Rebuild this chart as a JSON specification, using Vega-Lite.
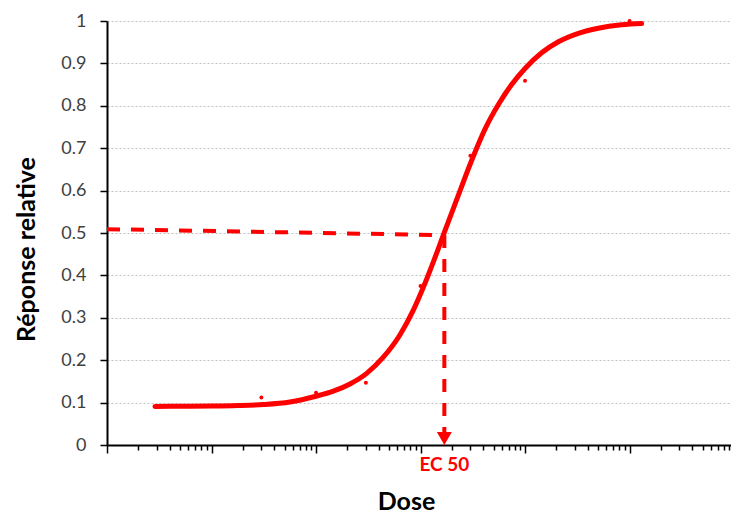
{
  "$schema": "https://vega.github.io/schema/vega-lite/v6.json",
  "width": 624,
  "height": 424,
  "autosize": {"type": "none"},
  "padding": {"left": 107, "top": 21, "right": 0, "bottom": 68},
  "background": "white",
  "config": {"view": {"stroke": null}, "font": "Lato"},
  "datasets": {
    "curve": [
      {"dose": 2.877, "y": 0.091},
      {"dose": 5.623, "y": 0.0913},
      {"dose": 10, "y": 0.0918},
      {"dose": 17.78, "y": 0.093},
      {"dose": 31.62, "y": 0.0955},
      {"dose": 56.23, "y": 0.1015},
      {"dose": 100, "y": 0.115},
      {"dose": 146.6, "y": 0.127},
      {"dose": 211.3, "y": 0.144},
      {"dose": 305.5, "y": 0.169},
      {"dose": 440.6, "y": 0.207},
      {"dose": 636.8, "y": 0.26},
      {"dose": 853.1, "y": 0.318},
      {"dose": 1064, "y": 0.372},
      {"dose": 1327, "y": 0.432},
      {"dose": 1652, "y": 0.495},
      {"dose": 2213, "y": 0.578},
      {"dose": 3083, "y": 0.671},
      {"dose": 4140, "y": 0.745},
      {"dose": 5559, "y": 0.803},
      {"dose": 7447, "y": 0.85},
      {"dose": 10000, "y": 0.888},
      {"dose": 14420, "y": 0.925},
      {"dose": 20840, "y": 0.951},
      {"dose": 32360, "y": 0.971},
      {"dose": 50230, "y": 0.983},
      {"dose": 84140, "y": 0.991},
      {"dose": 130600, "y": 0.994}
    ],
    "points": [
      {"dose": 30, "y": 0.112},
      {"dose": 100, "y": 0.123},
      {"dose": 300, "y": 0.147},
      {"dose": 1000, "y": 0.375},
      {"dose": 3000, "y": 0.682},
      {"dose": 10000, "y": 0.859},
      {"dose": 100000, "y": 1.0}
    ],
    "hline": [
      {"dose": 1, "y": 0.509},
      {"dose": 1690, "y": 0.495}
    ],
    "vline": [
      {"dose": 1690, "y": 0.495},
      {"dose": 1690, "y": 0.03}
    ],
    "arrow": [
      {"dose": 1690, "y": 0.0153}
    ],
    "label": [
      {"dose": 1690, "y": -0.0613, "text": "EC 50"}
    ]
  },
  "layer": [
    {
      "data": {"name": "curve"},
      "mark": {"type": "line", "color": "#ff0000", "strokeWidth": 5, "strokeCap": "round", "interpolate": "monotone"},
      "encoding": {
        "x": {
          "field": "dose", "type": "quantitative",
          "scale": {"type": "log", "domain": [1, 935000], "nice": false},
          "axis": {
            "title": "Dose",
            "titleFontSize": 25, "titleFontWeight": "bold", "titleColor": "#000000", "titleFont": "Lato",
            "titleX": 299, "titleY": 64, "titleAlign": "center", "titleBaseline": "alphabetic",
            "labels": false, "grid": false,
            "values": [1,2,3,4,5,6,7,8,9,10,20,30,40,50,60,70,80,90,100,200,300,400,500,600,700,800,900,1000,2000,3000,4000,5000,6000,7000,8000,9000,10000,20000,30000,40000,50000,60000,70000,80000,90000,100000,200000,300000,400000,500000,600000,700000,800000,900000],
            "tickSize": {"condition": {"test": "abs(log(datum.value)/LN10 - round(log(datum.value)/LN10)) < 0.000001", "value": 8}, "value": 5},
            "tickColor": "#000000", "tickWidth": 1.5,
            "domainColor": "#000000", "domainWidth": 2
          }
        },
        "y": {
          "field": "y", "type": "quantitative",
          "scale": {"domain": [0, 1], "nice": false, "zero": false},
          "axis": {
            "title": "Réponse relative",
            "titleFontSize": 25, "titleFontWeight": "bold", "titleColor": "#000000", "titleFont": "Lato",
            "titleX": -73, "titleY": 228, "titleAlign": "center", "titleBaseline": "alphabetic", "titleAngle": -90,
            "values": [0, 0.1, 0.2, 0.3, 0.4, 0.5, 0.6, 0.7, 0.8, 0.9, 1],
            "format": ".1~f",
            "labelFontSize": 18, "labelColor": "#404040", "labelPadding": 14, "labelFont": "Lato",
            "tickSize": 7, "tickColor": "#000000", "tickWidth": 1.5,
            "domainColor": "#000000", "domainWidth": 2,
            "grid": true, "gridColor": "#bfbfbf", "gridDash": [2, 2], "gridWidth": 1
          }
        }
      }
    },
    {
      "data": {"name": "points"},
      "mark": {"type": "circle", "color": "#ff0000", "size": 16, "opacity": 1},
      "encoding": {
        "x": {"field": "dose", "type": "quantitative"},
        "y": {"field": "y", "type": "quantitative"}
      }
    },
    {
      "data": {"name": "hline"},
      "mark": {"type": "line", "color": "#ff0000", "strokeWidth": 4, "strokeDash": [13, 11], "strokeCap": "butt"},
      "encoding": {
        "x": {"field": "dose", "type": "quantitative"},
        "y": {"field": "y", "type": "quantitative"}
      }
    },
    {
      "data": {"name": "vline"},
      "mark": {"type": "line", "color": "#ff0000", "strokeWidth": 4, "strokeDash": [13, 11], "strokeCap": "butt"},
      "encoding": {
        "x": {"field": "dose", "type": "quantitative"},
        "y": {"field": "y", "type": "quantitative"}
      }
    },
    {
      "data": {"name": "arrow"},
      "mark": {"type": "point", "shape": "triangle-down", "filled": true, "color": "#ff0000", "size": 225, "opacity": 1},
      "encoding": {
        "x": {"field": "dose", "type": "quantitative"},
        "y": {"field": "y", "type": "quantitative"}
      }
    },
    {
      "data": {"name": "label"},
      "mark": {"type": "text", "color": "#ff0000", "fontSize": 19, "fontWeight": "bold", "font": "Lato", "align": "center", "baseline": "alphabetic"},
      "encoding": {
        "x": {"field": "dose", "type": "quantitative"},
        "y": {"field": "y", "type": "quantitative"},
        "text": {"field": "text"}
      }
    }
  ]
}
